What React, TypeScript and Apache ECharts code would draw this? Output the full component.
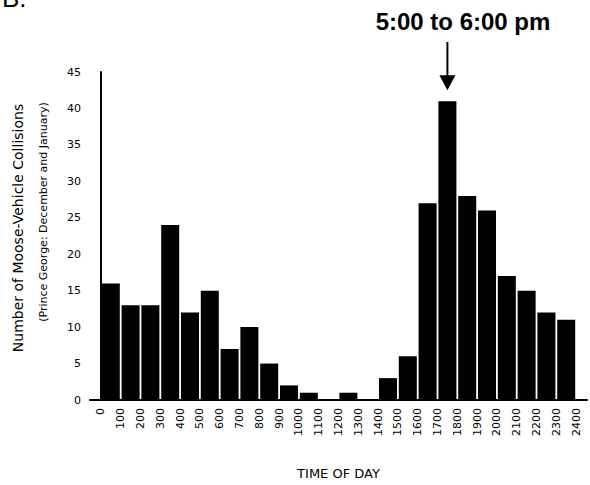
import React, { useEffect, useRef } from "react";
import * as echarts from "echarts";

// Hour at the start of each one-hour bin
const hourStarts = [0, 100, 200, 300, 400, 500, 600, 700, 800, 900, 1000, 1100, 1200, 1300, 1400, 1500, 1600, 1700, 1800, 1900, 2000, 2100, 2200, 2300];
// Number of moose-vehicle collisions in each bin
const collisions = [16, 13, 13, 24, 12, 15, 7, 10, 5, 2, 1, 0, 1, 0, 3, 6, 27, 41, 28, 26, 17, 15, 12, 11];
// x tick labels (bin boundaries)
const xTicks = [0, 100, 200, 300, 400, 500, 600, 700, 800, 900, 1000, 1100, 1200, 1300, 1400, 1500, 1600, 1700, 1800, 1900, 2000, 2100, 2200, 2300, 2400];
// highlighted bin
const peakStart = 1700;
const peakValue = 41;

const FONT = "'Liberation Sans', Arial, sans-serif";
const SMALL = "'DejaVu Sans', 'Liberation Sans', sans-serif";

export default function App() {
  const ref = useRef<HTMLDivElement>(null);
  useEffect(() => {
    document.body.style.margin = "0";
    const chart = echarts.init(ref.current!, undefined, { renderer: "svg" });
    const option: any = {
      animation: false,
      backgroundColor: "#fff",
      grid: { left: 90, right: 3, top: 72, bottom: 85, containLabel: false },
      xAxis: {
        type: "value",
        min: -55,
        max: 2455,
        name: "TIME OF DAY",
        nameLocation: "middle",
        nameGap: 67,
        nameTextStyle: { fontFamily: SMALL, fontSize: 13, color: "#000" },
        axisLine: { show: true, onZero: false, lineStyle: { color: "#000", width: 2 } },
        axisTick: { show: false },
        splitLine: { show: false },
        axisLabel: {
          customValues: xTicks,
          rotate: 90,
          margin: 8,
          fontFamily: SMALL,
          fontSize: 11,
          color: "#000",
          formatter: (v: number) => String(v),
        },
      },
      yAxis: {
        type: "value",
        min: 0,
        max: 45,
        interval: 5,
        axisLine: { show: true, lineStyle: { color: "#000", width: 2 } },
        axisTick: { show: false },
        splitLine: { show: false },
        axisLabel: { margin: 9, fontFamily: SMALL, fontSize: 11, color: "#000" },
      },
      series: [
        {
          type: "bar",
          barWidth: 18,
          itemStyle: { color: "#000" },
          data: hourStarts.map((h, i) => [h + 50, collisions[i]]),
        },
      ],
    };
    chart.setOption(option);

    const top = chart.convertToPixel({ gridIndex: 0 }, [peakStart + 50, peakValue]) as number[];
    const ax = top[0];
    const tipY = top[1] - 11;
    chart.setOption({
      graphic: [
        {
          type: "text",
          x: 2,
          y: 11,
          style: { text: "B.", fontFamily: FONT, fontSize: 26, fill: "#000", textVerticalAlign: "bottom", textAlign: "left" },
        },
        {
          type: "text",
          x: 463,
          y: 21,
          style: { text: "5:00 to 6:00 pm", fontFamily: FONT, fontSize: 24, fontWeight: "bold", fill: "#000", textAlign: "center", textVerticalAlign: "middle" },
        },
        {
          type: "line",
          shape: { x1: ax, y1: 42, x2: ax, y2: tipY - 12 },
          style: { stroke: "#000", lineWidth: 2 },
        },
        {
          type: "polygon",
          shape: { points: [[ax - 8, tipY - 15], [ax + 8, tipY - 15], [ax, tipY]] },
          style: { fill: "#000" },
        },
        {
          type: "text",
          x: 18,
          y: 228,
          rotation: Math.PI / 2,
          style: { text: "Number of Moose-Vehicle Collisions", fontFamily: SMALL, fontSize: 14, fill: "#000", textAlign: "center", textVerticalAlign: "middle" },
        },
        {
          type: "text",
          x: 43,
          y: 212,
          rotation: Math.PI / 2,
          style: { text: "(Prince George: December and January)", fontFamily: SMALL, fontSize: 11, fill: "#000", textAlign: "center", textVerticalAlign: "middle" },
        },
      ],
    });
    return () => chart.dispose();
  }, []);
  return <div ref={ref} style={{ width: 590, height: 485 }} />;
}
